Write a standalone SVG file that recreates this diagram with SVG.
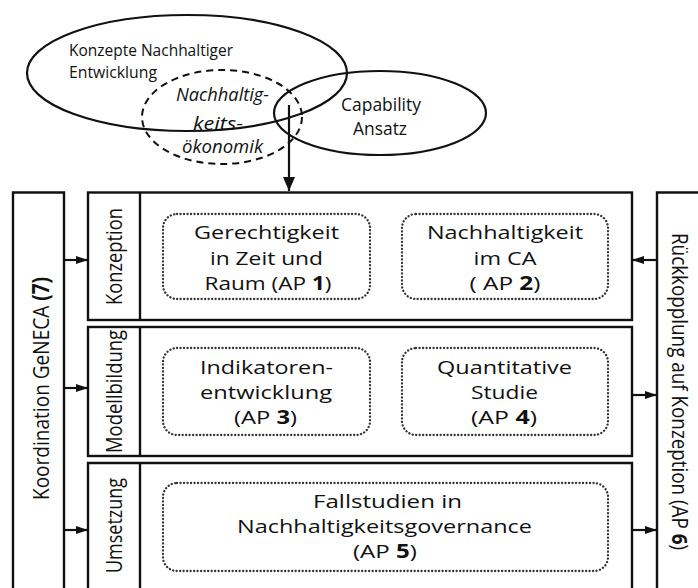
<svg xmlns="http://www.w3.org/2000/svg" width="698" height="588" viewBox="0 0 698 588">
<style>
  .ln { fill: none; stroke: #111; stroke-width: 2.2; }
  .box { fill: #fff; stroke: #111; stroke-width: 2.4; }
  .dash { fill: none; stroke: #111; stroke-width: 2; stroke-dasharray: 7 5; }
  .dot { fill: none; stroke: #333; stroke-width: 2.3; stroke-dasharray: 0.1 3.4; stroke-linecap: round; }
  text { font-family: "Open Sans", "Liberation Sans", sans-serif; fill: #111; }
  .t { font-size: 19px; text-anchor: middle; }
  .top { font-size: 17px; }
  .it { font-size: 18.5px; font-style: italic; text-anchor: middle; }
  .up { font-size: 18.5px; text-anchor: middle; }
  .v { font-size: 18px; text-anchor: middle; }
  .b { font-weight: bold; }
</style>
<defs>
  <marker id="ah" viewBox="0 0 12 10" refX="12" refY="5" markerWidth="12" markerHeight="10" markerUnits="userSpaceOnUse" orient="auto">
    <path d="M0,1 L12,5 L0,9 Z" fill="#111"/>
  </marker>
  <marker id="ahBig" viewBox="0 0 14 12" refX="14" refY="6" markerWidth="14" markerHeight="12" markerUnits="userSpaceOnUse" orient="auto">
    <path d="M0,0 L14,6 L0,12 Z" fill="#111"/>
  </marker>
</defs>

<g id="concepts">
  <g id="ellipse-konzepte">
    <ellipse class="ln" cx="187" cy="73" rx="160" ry="58"/>
    <text class="top" x="69" y="55.5" textLength="164" lengthAdjust="spacingAndGlyphs">Konzepte Nachhaltiger</text>
    <text class="top" x="69" y="78" textLength="88" lengthAdjust="spacingAndGlyphs">Entwicklung</text>
  </g>
  <g id="ellipse-oekonomik">
    <ellipse class="dash" cx="222" cy="117" rx="80" ry="47"/>
    <text class="it" x="222.5" y="101" textLength="93" lengthAdjust="spacingAndGlyphs">Nachhaltig-</text>
    <text class="it" x="218" y="130" textLength="50" lengthAdjust="spacingAndGlyphs">keits-</text>
    <text class="it" x="222.5" y="153" textLength="81" lengthAdjust="spacingAndGlyphs">ökonomik</text>
  </g>
  <g id="ellipse-capability">
    <ellipse class="ln" cx="380" cy="113" rx="106" ry="42"/>
    <text class="up" x="381" y="111" textLength="80" lengthAdjust="spacingAndGlyphs">Capability</text>
    <text class="up" x="380" y="135" textLength="54" lengthAdjust="spacingAndGlyphs">Ansatz</text>
  </g>
</g>

<g id="koordination">
  <path class="box" d="M13,600 V192.5 H64 V600"/>
  <text class="v" transform="translate(40,388.5) scale(1.25,1) rotate(-90)" y="7.2" textLength="223" lengthAdjust="spacingAndGlyphs">Koordination GeNECA <tspan class="b">(7)</tspan></text>
</g>

<g id="rueckkopplung">
  <path class="box" d="M657,600 V192.5 H720"/>
  <text class="v" style="font-size:17px" transform="translate(678,391.5) scale(1.25,1) rotate(90)" y="5" textLength="317" lengthAdjust="spacingAndGlyphs">Rückkopplung auf Konzeption (AP <tspan class="b">6</tspan>)</text>
</g>

<g id="konzeption">
  <rect class="box" x="88" y="192.5" width="544" height="127.5"/>
  <line class="box" x1="140" y1="192.5" x2="140" y2="320"/>
  <text class="v" transform="translate(114,256.5) scale(1.25,1) rotate(-90)" y="6.4" textLength="97" lengthAdjust="spacingAndGlyphs">Konzeption</text>
</g>
<g id="ap1">
  <rect class="dot" x="163" y="214" width="207" height="85" rx="14"/>
  <text class="t" x="266.5" y="239" textLength="145" lengthAdjust="spacingAndGlyphs">Gerechtigkeit</text>
  <text class="t" x="266.5" y="265" textLength="113" lengthAdjust="spacingAndGlyphs">in Zeit und</text>
  <text class="t" x="268" y="290" textLength="127" lengthAdjust="spacingAndGlyphs">Raum (AP <tspan class="b">1</tspan>)</text>
</g>
<g id="ap2">
  <rect class="dot" x="402" y="214" width="206" height="85" rx="14"/>
  <text class="t" x="505" y="239" textLength="156" lengthAdjust="spacingAndGlyphs">Nachhaltigkeit</text>
  <text class="t" x="505" y="265" textLength="63" lengthAdjust="spacingAndGlyphs">im CA</text>
  <text class="t" x="505" y="290" textLength="71" lengthAdjust="spacingAndGlyphs">( AP <tspan class="b">2</tspan>)</text>
</g>

<g id="modellbildung">
  <rect class="box" x="88" y="327" width="544" height="129"/>
  <line class="box" x1="140" y1="327" x2="140" y2="456"/>
  <text class="v" transform="translate(114,391.5) scale(1.25,1) rotate(-90)" y="6.4" textLength="123" lengthAdjust="spacingAndGlyphs">Modellbildung</text>
</g>
<g id="ap3">
  <rect class="dot" x="163" y="348" width="207" height="87" rx="14"/>
  <text class="t" x="266.5" y="374" textLength="133" lengthAdjust="spacingAndGlyphs">Indikatoren-</text>
  <text class="t" x="266" y="399" textLength="132" lengthAdjust="spacingAndGlyphs">entwicklung</text>
  <text class="t" x="265.5" y="424" textLength="63" lengthAdjust="spacingAndGlyphs">(AP <tspan class="b">3</tspan>)</text>
</g>
<g id="ap4">
  <rect class="dot" x="402" y="348" width="206" height="87" rx="14"/>
  <text class="t" x="504.5" y="374" textLength="135" lengthAdjust="spacingAndGlyphs">Quantitative</text>
  <text class="t" x="504.5" y="399" textLength="67" lengthAdjust="spacingAndGlyphs">Studie</text>
  <text class="t" x="504" y="424" textLength="66" lengthAdjust="spacingAndGlyphs">(AP <tspan class="b">4</tspan>)</text>
</g>

<g id="umsetzung">
  <path class="box" d="M88,600 V463 H632 V600"/>
  <line class="box" x1="140" y1="463" x2="140" y2="600"/>
  <text class="v" transform="translate(114,525.5) scale(1.25,1) rotate(-90)" y="6.4" textLength="95" lengthAdjust="spacingAndGlyphs">Umsetzung</text>
</g>
<g id="ap5">
  <rect class="dot" x="163" y="483" width="445" height="88" rx="14"/>
  <text class="t" x="387.5" y="508" textLength="149" lengthAdjust="spacingAndGlyphs">Fallstudien in</text>
  <text class="t" x="384.5" y="533" textLength="295" lengthAdjust="spacingAndGlyphs">Nachhaltigkeitsgovernance</text>
  <text class="t" x="385" y="558" textLength="64" lengthAdjust="spacingAndGlyphs">(AP <tspan class="b">5</tspan>)</text>
</g>

<g id="connectors">
  <line class="ln" stroke-width="2.6" x1="289" y1="105" x2="289" y2="191" marker-end="url(#ahBig)"/>
  <line class="ln" x1="64" y1="260" x2="88" y2="260" marker-end="url(#ah)"/>
  <line class="ln" x1="64" y1="388" x2="88" y2="388" marker-end="url(#ah)"/>
  <line class="ln" x1="64" y1="530" x2="88" y2="530" marker-end="url(#ah)"/>
  <line class="ln" x1="657" y1="260" x2="632" y2="260" marker-end="url(#ah)"/>
  <line class="ln" x1="632" y1="395" x2="657" y2="395" marker-end="url(#ah)"/>
  <line class="ln" x1="632" y1="530" x2="657" y2="530" marker-end="url(#ah)"/>
</g>
</svg>
